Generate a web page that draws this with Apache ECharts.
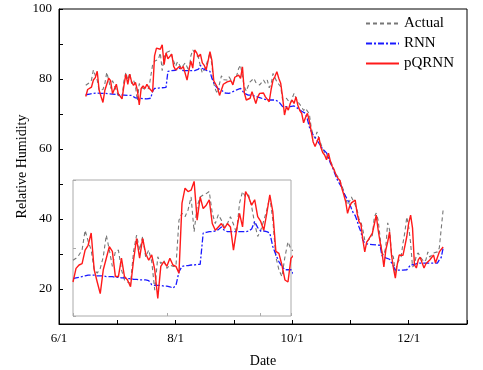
<!DOCTYPE html>
<html>
<head>
<meta charset="utf-8">
<script src="https://cdn.jsdelivr.net/npm/echarts@6/dist/echarts.min.js"></script>
<style>
  html, body { margin: 0; padding: 0; background: #fff; }
  #main { width: 483px; height: 370px; }
</style>
</head>
<body>
<div id="main"></div>
<script>
// days counted from 6/1, data runs daily from firstDay
const firstDay = 14;
const monthLabels = { 0: '6/1', 61: '8/1', 122: '10/1', 183: '12/1' };

const actual = [
  78.2, 78.5, 79, 79.7, 82.6, 81, 79.7, 76.8, 76.3, 77,
  78.7, 81.9, 79.7, 77.3, 79.5, 79.7, 76.8, 75.3, 75, 74.8,
  79.5, 81.9, 79.7, 81.7, 78.7, 79.7, 78, 73.8, 78.7, 77.7,
  78.2, 77, 77.5, 77.3, 77.3, 84.1, 85.1, 84.6, 85.6, 87.5,
  82.4, 86.1, 87.5, 87.8, 88, 88.3, 85.1, 83.6, 84.9, 84.1,
  83.1, 83.6, 84.6, 83.5, 82.2, 86.6, 88.3, 87.5, 87.8, 86.1,
  83.6, 81.7, 82.6, 84, 85.6, 87.5, 84.1, 78.7, 76.8, 75.8,
  78.7, 80.9, 79.8, 79.5, 79.7, 80.6, 79.7, 79, 78.8, 81,
  83, 84, 80.6, 77.8, 76.5, 78, 79.2, 79.5, 80.2, 79,
  78.8, 78.3, 78.5, 79.7, 78.8, 79.7, 77.5, 78.5, 81.6, 81.1,
  79.2, 78.5, 77.8, 74, 73.5, 74.5, 74, 73, 74.5, 75.9,
  74.5, 73.5, 73, 72, 71, 71.6, 72, 70, 66, 64,
  63, 64.9, 63, 61.5, 60, 59.5, 58, 57.5, 56.5, 55.5,
  54, 52.8, 52, 51, 49.5, 48, 46, 44, 45, 46.3,
  46.5, 44, 42.6, 40, 39.1, 36.9, 34, 33.4, 34, 33.5,
  35.4, 40.6, 41.7, 39.7, 34.9, 30.3, 29.7, 32, 38.9, 36.9,
  30, 29.1, 24.6, 27.4, 28.3, 29.1, 33.1, 36.3, 40.6, 37.7,
  33.1, 26.3, 26.9, 29.7, 30.3, 29.1, 28.5, 27.7, 28.3, 30.6,
  29.1, 28.9, 30.3, 30.3, 30.6, 31.7, 32, 42.6
];

const rnn = [
  75.5, 75.6, 75.7, 75.8, 75.9, 76, 76, 76, 75.9, 75.9,
  75.9, 75.8, 75.8, 75.8, 75.7, 75.7, 75.6, 75.6, 75.5, 75.5,
  75.4, 75.4, 75.3, 75.3, 75.3, 75.2, 74.6, 74.5, 74.5, 74.5,
  74.4, 74.4, 74.3, 74.1, 74.5, 76.5, 77.3, 77.4, 77.4, 77.5,
  77.5, 77.6, 77.6, 82.2, 82.3, 82.4, 82.4, 82.5, 82.7, 83.1,
  82.6, 82.4, 82.4, 82.4, 82.4, 82.4, 82.4, 82.4, 82.5, 82.8,
  83.9, 83, 82.5, 82.5, 82.4, 82.2, 80.2, 79, 78, 77.3,
  76.8, 76.8, 76.8, 76, 75.9, 75.9, 75.9, 76.4, 76.6, 76.9,
  77.1, 77.3, 77.1, 75.9, 75.4, 75.4, 75.4, 75.4, 75.2, 75,
  74.9, 74.7, 74.5, 74.3, 74.1, 74, 74, 74, 74, 74,
  74, 73.5, 72.8, 72.1, 72.1, 72.1, 72.1, 72.1, 72.4, 72.3,
  72, 71.6, 71.1, 70.8, 70.4, 70.2, 68.5, 66.3, 65, 64,
  63.4, 62.5, 61.7, 60.8, 60, 59.5, 58.9, 57.5, 56, 54.9,
  53.5, 52, 50.8, 50.3, 49, 47.4, 46.5, 45.4, 44.5, 43,
  41.7, 41, 39.5, 37.7, 36.3, 34, 33.1, 33, 32.8, 32.8,
  32.7, 32.7, 32.6, 32.6, 32.5, 29.5, 29, 28.9, 28.7, 28.5,
  28.3, 26.5, 25.4, 25.4, 25.4, 25.4, 25.4, 25.4, 25.5, 25.6,
  26.9, 26.9, 27, 27.2, 27.4, 27.4, 27.4, 27.4, 27.4, 27.4,
  27.4, 27.4, 27.4, 27.4, 27.4, 28.3, 29, 31.7
];

const pqrnn = [
  75, 77, 77.5, 77.7, 79.7, 80.4, 82.2, 76.8, 75, 73.3,
  76.8, 78.5, 80.2, 79.5, 75.8, 75.8, 78.5, 75.8, 75.3, 74.3,
  78.2, 81.4, 78.5, 81.4, 79.2, 78.2, 79, 76.8, 72.6, 77.3,
  78, 77.3, 78.5, 77.5, 77.3, 76.3, 86.6, 88.8, 88.3, 88.5,
  89.8, 84.1, 87.5, 85.8, 86.3, 87.1, 83.6, 82.6, 83.1, 83.6,
  82.9, 83.6, 83.1, 79.7, 82.6, 85.1, 83.1, 88.3, 87.5, 86.3,
  87.1, 84.6, 83.9, 82.6, 85.1, 87.8, 85.3, 79.5, 79.2, 77.5,
  75.3, 75, 78.5, 79, 79.2, 79.7, 79.5, 78.3, 80.5, 81,
  81.1, 80.2, 83.5, 76, 74, 73.8, 74.5, 76.4, 75.9, 73,
  74.9, 75.9, 76.4, 76, 74.9, 74.5, 73.5, 77, 79.7, 80.7,
  82.1, 80.2, 78.8, 74.9, 69.7, 72.1, 71.1, 73, 74, 73,
  74.9, 72.5, 71, 70.2, 67.5, 69, 70.2, 68, 65, 62,
  60.7, 62.1, 63.4, 60.5, 59, 58.3, 56.9, 58.8, 56.5, 55,
  54, 52.5, 51.6, 51, 48.8, 47, 45, 41.6, 43.5, 44.6,
  44.5, 45.4, 41.6, 39.2, 38.5, 34, 30.6, 33.4, 34.2, 34.6,
  36, 38.5, 41.1, 36.9, 33.5, 30.6, 26.3, 31.1, 33.5, 36.3,
  29.7, 26, 23.1, 27, 29.7, 29.5, 29.6, 29.7, 35, 38.9,
  41.1, 37.4, 26.9, 26, 28.3, 29.1, 27.5, 26, 27.2, 27.7,
  28.3, 27.8, 29.7, 27.4, 27.6, 30.6, 31.1, 32
];

const font = 'Liberation Serif';

function withDays(values) {
  return values.map((v, i) => [firstDay + i, v]);
}

// 3 lines, drawn in both the main grid and the inset
function makeSeries(axisIdx) {
  return [
    {
      name: 'Actual', type: 'line', xAxisIndex: axisIdx, yAxisIndex: axisIdx,
      data: withDays(actual), symbol: 'none', animation: false,
      lineStyle: { color: '#777', width: 1.1, type: [4, 3] }
    },
    {
      name: 'RNN', type: 'line', xAxisIndex: axisIdx, yAxisIndex: axisIdx,
      data: withDays(rnn), symbol: 'none', animation: false,
      lineStyle: { color: '#1a1aff', width: 1.3, type: [6, 2, 2, 2] }
    },
    {
      name: 'pQRNN', type: 'line', xAxisIndex: axisIdx, yAxisIndex: axisIdx,
      data: withDays(pqrnn), symbol: 'none', animation: false,
      lineStyle: { color: '#ff1a1a', width: 1.4 }
    }
  ];
}

const chart = echarts.init(document.getElementById('main'));
chart.setOption({
  backgroundColor: '#fff',
  textStyle: { fontFamily: font },
  legend: {
    orient: 'vertical', left: 365, top: 16, padding: 0,
    itemWidth: 33, itemHeight: 14, itemGap: 5,
    data: ['Actual', 'RNN', 'pQRNN'],
    itemStyle: { opacity: 0 },
    textStyle: { fontFamily: font, fontSize: 15, color: '#000' }
  },
  grid: [
    {
      left: 59, top: 9, width: 408, height: 315, outerBoundsMode: 'none',
      show: true, borderColor: '#000', borderWidth: 1
    },
    {
      left: 73, top: 180, width: 218, height: 136, outerBoundsMode: 'none',
      show: true, borderColor: '#aaa', borderWidth: 1, backgroundColor: '#fff'
    }
  ],
  xAxis: [
    {
      gridIndex: 0, type: 'value', min: 0, max: 213.5, interval: 30.5,
      name: 'Date', nameLocation: 'middle', nameGap: 30, nameMoveOverlap: false,
      nameTextStyle: { fontFamily: font, fontSize: 14, color: '#000' },
      axisLine: { lineStyle: { color: '#000', width: 1 } },
      axisTick: { inside: true, length: 4, lineStyle: { color: '#000' } },
      axisLabel: {
        fontFamily: font, fontSize: 13, color: '#000', margin: 8,
        formatter: v => monthLabels[Math.round(v)] || ''
      },
      splitLine: { show: false }
    },
    {
      gridIndex: 1, type: 'value', min: 14, max: 86, interval: 31,
      axisLine: { show: false },
      axisTick: { inside: true, length: 3, lineStyle: { color: '#aaa' } },
      axisLabel: { show: false },
      splitLine: { show: false }
    }
  ],
  yAxis: [
    {
      gridIndex: 0, type: 'value', min: 10, max: 100, interval: 10,
      name: 'Relative Humidity', nameLocation: 'middle', nameGap: 30, nameMoveOverlap: false,
      nameTextStyle: { fontFamily: font, fontSize: 14, color: '#000' },
      axisLine: { show: true, lineStyle: { color: '#000', width: 1 } },
      axisTick: { inside: true, length: 4, lineStyle: { color: '#000' } },
      axisLabel: {
        fontFamily: font, fontSize: 13, color: '#000', margin: 7,
        formatter: v => (v % 20 === 0 ? String(v) : '')
      },
      splitLine: { show: false }
    },
    {
      gridIndex: 1, type: 'value', min: 70, max: 90, interval: 10,
      axisLine: { show: false },
      axisTick: { inside: true, length: 3, lineStyle: { color: '#aaa' } },
      axisLabel: { show: false },
      splitLine: { show: false }
    }
  ],
  series: makeSeries(0).concat(makeSeries(1))
});
</script>
</body>
</html>
